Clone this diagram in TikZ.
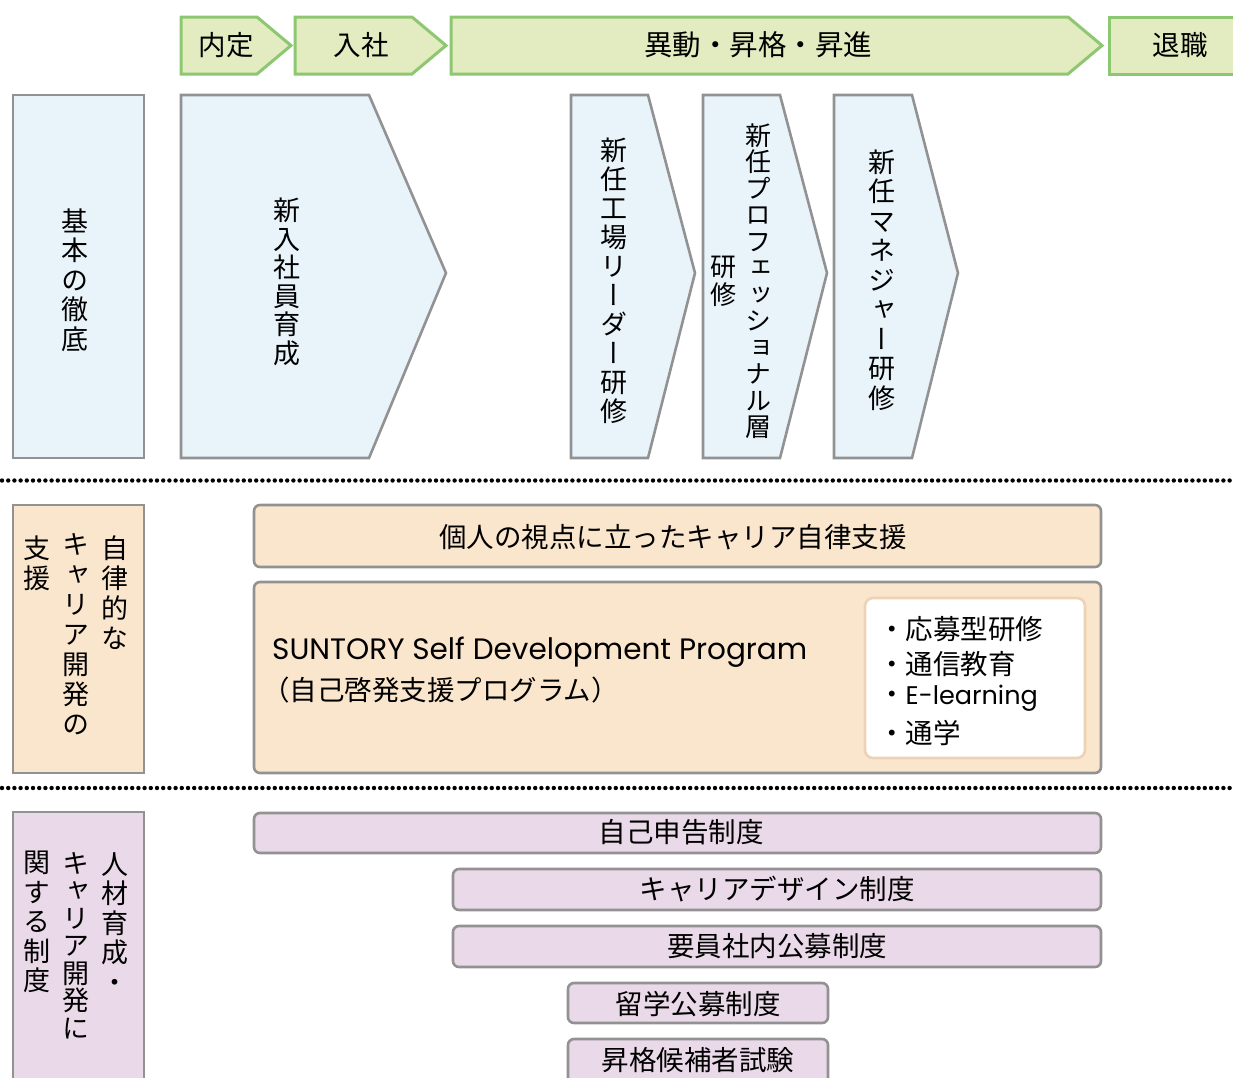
\documentclass[tikz,border=0pt]{standalone}
\usepackage{fontspec}
\newfontfamily\jp{Noto Sans CJK JP}
\newfontfamily\lat{Poppins}
\newfontfamily\vjp[RawFeature=+vert]{Noto Sans CJK JP}
\definecolor{grnfill}{HTML}{E3EBC0}
\definecolor{grnline}{HTML}{8DC771}
\definecolor{blufill}{HTML}{E8F3FA}
\definecolor{pchfill}{HTML}{FAE5CD}
\definecolor{pchline}{HTML}{EDD2B6}
\definecolor{lavfill}{HTML}{EAD9E8}
\definecolor{gryline}{HTML}{929292}
\tikzset{
  grn/.style={fill=grnfill, draw=grnline, line width=3pt},
  blu/.style={fill=blufill, draw=gryline, line width=2.6pt},
  pch/.style={fill=pchfill, draw=gryline, line width=2.6pt},
  lav/.style={fill=lavfill, draw=gryline, line width=2.6pt},
  htxt/.style={font=\jp\fontsize{27.5}{33}\selectfont, text=black, inner sep=0pt},
  vtxt/.style={font=\vjp\fontsize{27}{29.5}\selectfont, text=black, align=center, inner sep=0pt},
  dotline/.style={line width=4.4pt, line cap=round, dash pattern=on 0pt off 6.2pt, draw=black}
}
\begin{document}
\begin{tikzpicture}[x=1pt,y=-1pt]
\useasboundingbox (0,0) rectangle (1233,1077);
\clip (0,0) rectangle (1233,1077);

% ---- top timeline ----
\draw[grn] (181,17) -- (257,17) -- (291,45.5) -- (257,74) -- (181,74) -- cycle;
\node[htxt] (naitei) at (226,45) {内定};
\draw[grn] (295,17) -- (412,17) -- (446,45.5) -- (412,74) -- (295,74) -- cycle;
\node[htxt] (nyusha) at (361,45) {入社};
\draw[grn] (451,17) -- (1068,17) -- (1102,45.5) -- (1068,74) -- (451,74) -- cycle;
\node[htxt, font=\jp\fontsize{28.5}{33}\selectfont] (idou) at (758,45) {異動・昇格・昇進};
\draw[grn] (1109,17) rectangle (1250,74);
\node[htxt] (taishoku) at (1180,45) {退職};

% ---- training chevrons ----
\draw[blu] (13,95) rectangle (144,458);
\node[vtxt] (kihon) at (75,280) {基\\本\\の\\徹\\底};
\draw[blu] (181,95) -- (369,95) -- (446,273) -- (369,458) -- (181,458) -- cycle;
\node[vtxt, font=\vjp\fontsize{27}{28.5}\selectfont] (shinnyu) at (287,282) {新\\入\\社\\員\\育\\成};
\draw[blu] (571,95) -- (648,95) -- (695,273) -- (648,458) -- (571,458) -- cycle;
\node[vtxt, font=\vjp\fontsize{27}{29}\selectfont] (kojo) at (614,281) {新\\任\\工\\場\\リ\\ー\\ダ\\ー\\研\\修};
\draw[blu] (703,95) -- (780,95) -- (827,273) -- (780,458) -- (703,458) -- cycle;
\node[vtxt, font=\vjp\fontsize{26}{26.5}\selectfont] (prof) at (758,281) {新\\任\\プ\\ロ\\フ\\ェ\\ッ\\シ\\ョ\\ナ\\ル\\層};
\node[vtxt, font=\vjp\fontsize{26}{28}\selectfont] (profb) at (723,281) {研\\修};
\draw[blu] (834,95) -- (912,95) -- (958,273) -- (912,458) -- (834,458) -- cycle;
\node[vtxt] (mgr) at (882,280) {新\\任\\マ\\ネ\\ジ\\ャ\\ー\\研\\修};

% ---- dotted separators ----
\draw[dotline] (2,480.5) -- (1233,480.5);
\draw[dotline] (2,788) -- (1233,788);

% ---- self development section ----
\draw[pch] (13,505) rectangle (144,773);
\node[vtxt, font=\vjp\fontsize{27}{30}\selectfont, anchor=north] (jiritsua) at (115,536) {自\\律\\的\\な};
\node[vtxt, font=\vjp\fontsize{27}{30}\selectfont, anchor=north] (jiritsub) at (76,533) {キ\\ャ\\リ\\ア\\開\\発\\の};
\node[vtxt, font=\vjp\fontsize{27}{30}\selectfont, anchor=north] (jiritsuc) at (37,536) {支\\援};

\draw[pch, rounded corners=6pt] (254,505) rectangle (1101,567);
\node[htxt] (kojin) at (673,537) {個人の視点に立ったキャリア自律支援};

\draw[pch, rounded corners=6pt] (254,582) rectangle (1101,773);
\node[htxt, font=\lat\fontsize{29.5}{33}\selectfont, anchor=west] (sdp) at (272,652) {SUNTORY Self Development Program};
\node[htxt, anchor=west] (sdpjp) at (262,690) {（自己啓発支援プログラム）};

\draw[draw=pchline, fill=white, line width=2.6pt, rounded corners=8pt] (865,598) rectangle (1085,758);
\node[htxt, anchor=west] (ia) at (878,629) {・応募型研修};
\node[htxt, anchor=west] (ib) at (878,664) {・通信教育};
\node[htxt, anchor=west] (ic) at (878,698) {・{\lat\fontsize{25.5}{33}\selectfont E-learning}};
\node[htxt, anchor=west] (id) at (878,733) {・通学};

% ---- systems section ----
\draw[lav] (13,812) rectangle (144,1095);
\node[vtxt, font=\vjp\fontsize{27}{29.5}\selectfont, anchor=north] (jinzaia) at (115,852) {人\\材\\育\\成\\・};
\node[vtxt, font=\vjp\fontsize{27}{27.5}\selectfont, anchor=north] (jinzaib) at (76,852) {キ\\ャ\\リ\\ア\\開\\発\\に};
\node[vtxt, font=\vjp\fontsize{27}{29.5}\selectfont, anchor=north] (jinzaic) at (37,851) {関\\す\\る\\制\\度};

\draw[lav, rounded corners=6pt] (254,813) rectangle (1101,853);
\node[htxt] (jiko) at (681,832) {自己申告制度};
\draw[lav, rounded corners=6pt] (453,869) rectangle (1101,910);
\node[htxt] (design) at (777,889) {キャリアデザイン制度};
\draw[lav, rounded corners=6pt] (453,926) rectangle (1101,967);
\node[htxt] (yoin) at (777,946) {要員社内公募制度};
\draw[lav, rounded corners=6pt] (568,983) rectangle (828,1023);
\node[htxt] (ryugaku) at (698,1004) {留学公募制度};
\draw[lav, rounded corners=6pt] (568,1039) rectangle (828,1100);
\node[htxt] (shokaku) at (698,1060) {昇格候補者試験};
\end{tikzpicture}
\end{document}
